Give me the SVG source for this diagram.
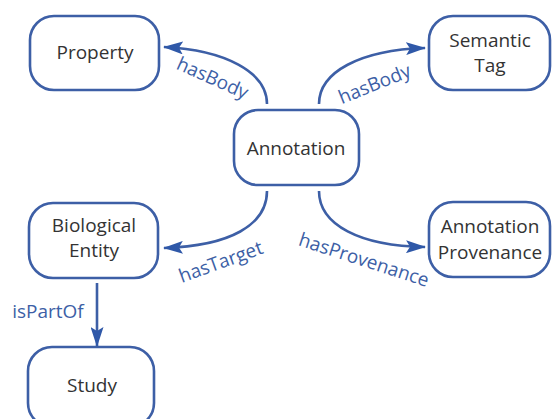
<svg xmlns="http://www.w3.org/2000/svg" width="552" height="419" viewBox="0 0 552 419">
<defs>
<marker id="ah" viewBox="0 0 20 13" refX="19" refY="6.5" markerWidth="20" markerHeight="13" markerUnits="userSpaceOnUse" orient="auto">
<path d="M0,0 L20,6.5 L0,13 L4,6.5 Z" fill="#2f58a8"/>
</marker>
<style>
.box{fill:#fff;stroke:#3d5fa6;stroke-width:2.6}
.t{font-family:"Open Sans","Noto Sans",sans-serif;font-size:19px;fill:#333;text-anchor:middle}
.c{fill:none;stroke:#3d5fa6;stroke-width:2.6}
.l{font-family:"Open Sans","Noto Sans",sans-serif;font-size:19px;fill:#3d5fa6;text-anchor:middle}
</style>
</defs>
<rect width="552" height="419" fill="#fff"/>
<g id="property"><rect class="box" x="30" y="16" width="129" height="74" rx="24"/><text class="t" x="95" y="59">Property</text></g>
<g id="semantic-tag"><rect class="box" x="429" y="16" width="121" height="74" rx="24"/><text class="t" x="490" y="47">Semantic</text><text class="t" x="490" y="72">Tag</text></g>
<g id="annotation"><rect class="box" x="234" y="110" width="125" height="75" rx="24"/><text class="t" x="296" y="155">Annotation</text></g>
<g id="biological-entity"><rect class="box" x="29" y="203" width="129" height="75" rx="24"/><text class="t" x="94" y="232">Biological</text><text class="t" x="94" y="257">Entity</text></g>
<g id="annotation-provenance"><rect class="box" x="429" y="202" width="121" height="75" rx="24"/><text class="t" x="490" y="233">Annotation</text><text class="t" x="490" y="259">Provenance</text></g>
<g id="study"><rect class="box" x="28" y="347" width="126" height="80" rx="24"/><text class="t" x="92" y="392">Study</text></g>
<g id="connectors">
<path class="c" d="M267,104 C267,72 225,50 164,47" marker-end="url(#ah)"/>
<path class="c" d="M319,104 C319,72 360,50 425,48" marker-end="url(#ah)"/>
<path class="c" d="M267,191 C267,225 230,246 164,248" marker-end="url(#ah)"/>
<path class="c" d="M319,191 C319,225 360,246 425,247" marker-end="url(#ah)"/>
<path class="c" d="M97,283 L97,346" marker-end="url(#ah)"/>
<text class="l" transform="translate(210,84) rotate(24)">hasBody</text>
<text class="l" transform="translate(377,90) rotate(-22)">hasBody</text>
<text class="l" transform="translate(223,268) rotate(-20)">hasTarget</text>
<text class="l" transform="translate(362,266) rotate(18)">hasProvenance</text>
<text class="l" x="48" y="318">isPartOf</text>
</g>
</svg>
